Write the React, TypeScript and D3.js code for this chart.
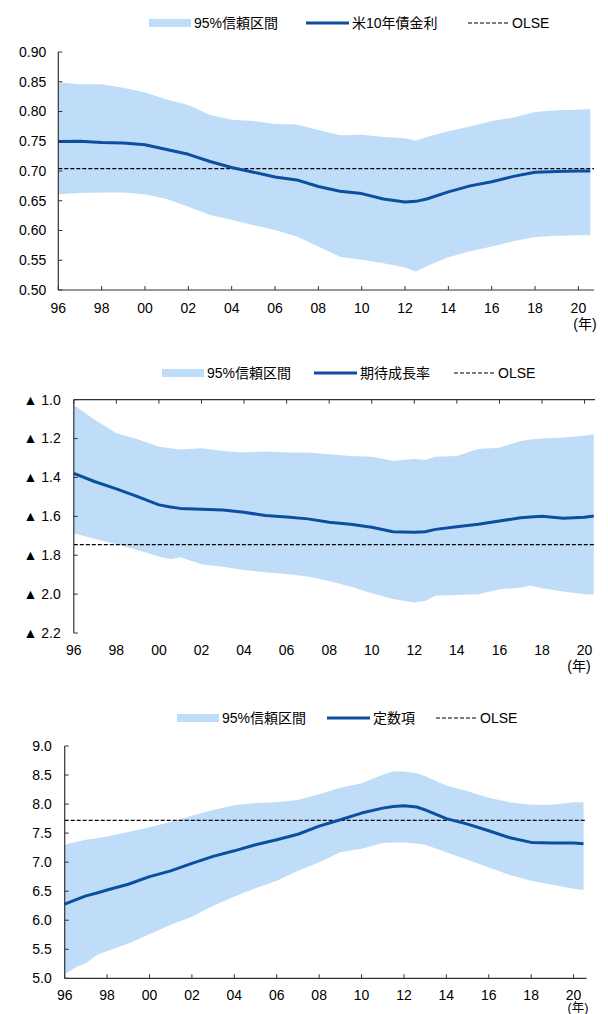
import React from "react";
import * as d3 from "d3";

// ---------- Panel 1: 米10年債金利 ----------
const years1 = [1996, 1997, 1998, 1999, 2000, 2001, 2002, 2003, 2004, 2005, 2006, 2007, 2008, 2009, 2010, 2011, 2012, 2012.5, 2013, 2014, 2015, 2016, 2017, 2018, 2019, 2020, 2020.55];
const lower1 = [0.661, 0.663, 0.664, 0.664, 0.661, 0.653, 0.640, 0.626, 0.618, 0.609, 0.601, 0.590, 0.573, 0.556, 0.551, 0.545, 0.538, 0.531, 0.540, 0.555, 0.565, 0.573, 0.582, 0.589, 0.591, 0.592, 0.592];
const mid1 = [0.7495, 0.750, 0.748, 0.747, 0.744, 0.736, 0.728, 0.716, 0.706, 0.698, 0.690, 0.685, 0.674, 0.666, 0.662, 0.653, 0.648, 0.649, 0.653, 0.665, 0.675, 0.682, 0.691, 0.698, 0.699, 0.700, 0.700];
const upper1 = [0.849, 0.846, 0.846, 0.840, 0.832, 0.820, 0.811, 0.794, 0.786, 0.784, 0.779, 0.778, 0.769, 0.760, 0.761, 0.757, 0.755, 0.751, 0.757, 0.767, 0.775, 0.784, 0.790, 0.799, 0.802, 0.803, 0.804];
const olse1 = 0.704;
const yTicks1 = [0.5, 0.55, 0.6, 0.65, 0.7, 0.75, 0.8, 0.85, 0.9];

// ---------- Panel 2: 期待成長率 ----------
const years2 = [1996, 1997, 1998, 1999, 2000, 2000.54, 2001, 2002, 2003, 2004, 2005, 2006, 2007, 2008, 2009, 2010, 2011, 2012, 2012.5, 2013, 2014, 2015, 2016, 2017, 2017.45, 2018, 2019, 2020, 2020.43];
const upper2 = [-1.027, -1.104, -1.173, -1.204, -1.242, -1.250, -1.256, -1.250, -1.264, -1.271, -1.267, -1.271, -1.271, -1.281, -1.290, -1.293, -1.314, -1.305, -1.310, -1.293, -1.290, -1.254, -1.247, -1.212, -1.205, -1.199, -1.195, -1.185, -1.178];
const mid2 = [-1.379, -1.422, -1.459, -1.499, -1.541, -1.552, -1.559, -1.564, -1.567, -1.579, -1.596, -1.603, -1.613, -1.630, -1.641, -1.656, -1.679, -1.682, -1.679, -1.667, -1.653, -1.641, -1.624, -1.607, -1.603, -1.600, -1.610, -1.605, -1.598];
const lower2 = [-1.687, -1.716, -1.744, -1.773, -1.807, -1.821, -1.811, -1.847, -1.859, -1.876, -1.888, -1.896, -1.910, -1.932, -1.961, -1.996, -2.025, -2.043, -2.035, -2.009, -2.004, -2.001, -1.975, -1.967, -1.956, -1.970, -1.987, -2.001, -2.001];
const olse2 = -1.745;
const yTicks2 = [-2.2, -2.0, -1.8, -1.6, -1.4, -1.2, -1.0];

// ---------- Panel 3: 定数項 ----------
const years3 = [1996, 1996.57, 1997, 1997.52, 1998, 1999, 2000, 2001, 2002, 2003, 2004, 2005, 2006, 2007, 2008, 2009, 2010, 2011, 2011.5, 2012, 2012.6, 2013, 2014, 2015, 2016, 2017, 2018, 2019, 2020, 2020.47];
const upper3 = [7.30, 7.35, 7.385, 7.41, 7.44, 7.52, 7.60, 7.69, 7.80, 7.90, 7.98, 8.02, 8.03, 8.07, 8.17, 8.28, 8.36, 8.505, 8.56, 8.56, 8.53, 8.48, 8.32, 8.22, 8.11, 8.03, 7.99, 7.99, 8.03, 8.03];
const mid3 = [6.276, 6.36, 6.42, 6.47, 6.52, 6.62, 6.75, 6.85, 6.98, 7.10, 7.195, 7.30, 7.385, 7.48, 7.62, 7.73, 7.845, 7.93, 7.96, 7.97, 7.95, 7.90, 7.75, 7.655, 7.54, 7.42, 7.34, 7.33, 7.33, 7.315];
const lower3 = [5.07, 5.20, 5.26, 5.40, 5.47, 5.60, 5.76, 5.92, 6.06, 6.25, 6.41, 6.55, 6.68, 6.85, 7.00, 7.17, 7.23, 7.33, 7.34, 7.34, 7.32, 7.30, 7.17, 7.04, 6.91, 6.78, 6.68, 6.61, 6.54, 6.52];
const olse3 = 7.72;
const yTicks3 = [5.0, 5.5, 6.0, 6.5, 7.0, 7.5, 8.0, 8.5, 9.0];

const xTickYears = [1996, 1998, 2000, 2002, 2004, 2006, 2008, 2010, 2012, 2014, 2016, 2018, 2020];
const bandLabel = "95%信頼区間";
const olseLabel = "OLSE";
const yearUnit = "(年)";

const FONT = "'Liberation Sans', Arial, 'Noto Sans CJK JP', sans-serif";
const BAND = "#bfdcf8";
const LINE = "#0b4f9e";
const AXIS = "#333333";
const DASH = "4,2";

type PanelProps = {
  years: number[];
  lower: number[];
  mid: number[];
  upper: number[];
  olse: number;
  yTicks: number[];
  fmt: (v: number) => string;
  seriesLabel: string;
  x0: number;
  x1: number;
  xEnd: number;
  yTop: number;
  yBottom: number;
  yDomain: [number, number];
  axisTop: boolean;
  legendY: number;
  legendX: [number, number, number];
  labelGap: number;
  xLabelOffset: number;
  unitX: number;
  unitOffset: number;
  unitSize: number;
};

function Panel(p: PanelProps) {
  const x = d3.scaleLinear().domain([1996, p.xEnd]).range([p.x0, p.x1]);
  const y = d3.scaleLinear().domain(p.yDomain).range([p.yBottom, p.yTop]);
  const idx = p.years.map((_, i) => i);
  const area = d3
    .area<number>()
    .x((i) => x(p.years[i]))
    .y0((i) => y(p.lower[i]))
    .y1((i) => y(p.upper[i]));
  const line = d3
    .line<number>()
    .x((i) => x(p.years[i]))
    .y((i) => y(p.mid[i]));
  const hAxisY = p.axisTop ? p.yTop : p.yBottom;
  const tickDir = p.axisTop ? 1 : -1;
  const [lx1, lx2, lx3] = p.legendX;
  const ly = p.legendY;
  return (
    <g fontFamily={FONT} fontSize={14} fill="#000">
      {/* legend */}
      <rect x={lx1} y={ly - 4} width={42} height={8} fill={BAND} />
      <text x={lx1 + 45} y={ly} dy="0.35em">{bandLabel}</text>
      <line x1={lx2} x2={lx2 + 43} y1={ly} y2={ly} stroke={LINE} strokeWidth={3} />
      <text x={lx2 + 46} y={ly} dy="0.35em">{p.seriesLabel}</text>
      <line x1={lx3} x2={lx3 + 41} y1={ly} y2={ly} stroke="#000" strokeWidth={1.2} strokeDasharray={DASH} />
      <text x={lx3 + 44} y={ly} dy="0.35em">{olseLabel}</text>

      {/* band + line */}
      <path d={area(idx) || ""} fill={BAND} />
      <line x1={p.x0} x2={p.x1} y1={y(p.olse)} y2={y(p.olse)} stroke="#000" strokeWidth={1.2} strokeDasharray={DASH} />
      <path d={line(idx) || ""} fill="none" stroke={LINE} strokeWidth={3} strokeLinejoin="round" />

      {/* axes */}
      <line x1={p.x0} x2={p.x0} y1={p.yTop} y2={p.yBottom} stroke={AXIS} strokeWidth={1.2} />
      <line x1={p.x0} x2={p.x1} y1={hAxisY} y2={hAxisY} stroke={AXIS} strokeWidth={1.2} />
      {p.yTicks.map((t) => (
        <g key={"y" + t}>
          <line x1={p.x0} x2={p.x0 + 4} y1={y(t)} y2={y(t)} stroke={AXIS} strokeWidth={1} />
          <text x={p.x0 - p.labelGap} y={y(t)} dy="0.35em" textAnchor="end">{p.fmt(t)}</text>
        </g>
      ))}
      {xTickYears.map((t) => (
        <g key={"x" + t}>
          <line x1={x(t)} x2={x(t)} y1={hAxisY} y2={hAxisY + tickDir * 4} stroke={AXIS} strokeWidth={1} />
          <text x={x(t)} y={p.yBottom + p.xLabelOffset} dy="0.35em" textAnchor="middle">
            {String(t % 100).padStart(2, "0")}
          </text>
        </g>
      ))}
      <text x={p.unitX} y={p.yBottom + p.unitOffset} dy="0.35em" textAnchor="middle" fontSize={p.unitSize}>{yearUnit}</text>
    </g>
  );
}

export default function App() {
  return (
    <svg width={608} height={1014} style={{ position: "absolute", left: 0, top: 0, background: "#fff" }}>
      <rect width={608} height={1014} fill="#fff" />
      <Panel
        years={years1}
        lower={lower1}
        mid={mid1}
        upper={upper1}
        olse={olse1}
        yTicks={yTicks1}
        fmt={(v) => v.toFixed(2)}
        seriesLabel="米10年債金利"
        x0={58.3}
        x1={594}
        xEnd={2020.72}
        yTop={52}
        yBottom={290}
        yDomain={[0.5, 0.9]}
        axisTop={false}
        legendY={23}
        legendX={[149, 306, 468]}
        labelGap={12}
        xLabelOffset={18}
        unitX={585}
        unitOffset={34}
        unitSize={14}
      />
      <Panel
        years={years2}
        lower={lower2}
        mid={mid2}
        upper={upper2}
        olse={olse2}
        yTicks={yTicks2}
        fmt={(v) => "▲ " + Math.abs(v).toFixed(1)}
        seriesLabel="期待成長率"
        x0={73.8}
        x1={595}
        xEnd={2020.49}
        yTop={399.7}
        yBottom={633}
        yDomain={[-2.2, -1.0]}
        axisTop={true}
        legendY={373}
        legendX={[162, 314, 454]}
        labelGap={13}
        xLabelOffset={17}
        unitX={579}
        unitOffset={33}
        unitSize={14}
      />
      <Panel
        years={years3}
        lower={lower3}
        mid={mid3}
        upper={upper3}
        olse={olse3}
        yTicks={yTicks3}
        fmt={(v) => v.toFixed(1)}
        seriesLabel="定数項"
        x0={64.7}
        x1={586.5}
        xEnd={2020.61}
        yTop={746}
        yBottom={978.3}
        yDomain={[5, 9]}
        axisTop={false}
        legendY={718}
        legendX={[177, 327, 436]}
        labelGap={13}
        xLabelOffset={17}
        unitX={578}
        unitOffset={29.5}
        unitSize={12.5}
      />
    </svg>
  );
}
